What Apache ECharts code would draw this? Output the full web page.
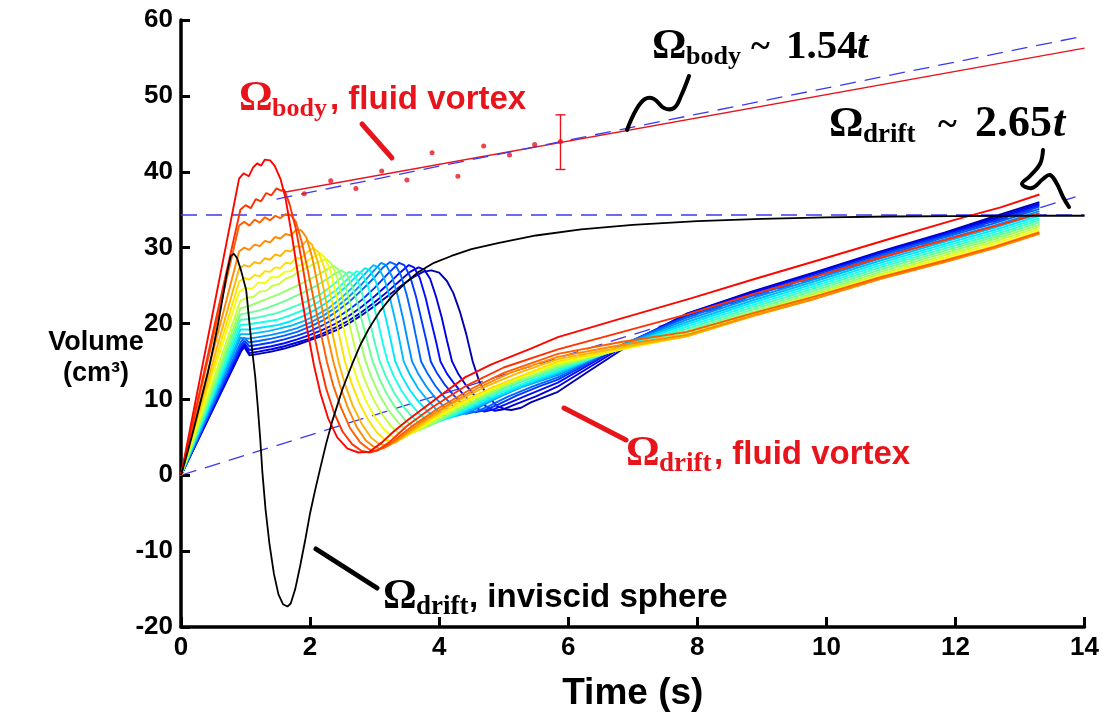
<!DOCTYPE html>
<html><head><meta charset="utf-8">
<script src="https://cdn.jsdelivr.net/npm/echarts@6/dist/echarts.min.js"></script>
<style>html,body{margin:0;padding:0;background:#fff}#c{width:1102px;height:717px}</style>
</head><body><div id="c"></div>
<script>
// ---- data: [time (s), volume (cm^3)] ----
const c00 = [[0,0],[0.9,39.1],[0.97,39.8],[1.05,39.4],[1.12,40.6],[1.18,41.1],[1.24,40.8],[1.3,41.6],[1.38,41.5],[1.45,40.8],[1.54,39.1],[1.62,36.5],[1.72,31.5],[1.83,25.5],[1.95,19.5],[2.06,14.5],[2.16,10.8],[2.28,7.5],[2.42,5.0],[2.58,3.5],[2.75,3.0],[2.92,3.1],[3.11,4.3],[3.3,5.8],[3.52,7.3],[3.99,10.3],[4.4,12.9],[4.81,14.6],[5.42,16.7],[5.84,18.2],[6.8,20.6],[7.9,23.3],[8.9,25.9],[9.9,28.4],[11.0,31.2],[12.0,33.7],[12.7,35.3],[13.3,37.0]];
const c01 = [[0,0],[0.92,35.0],[1.0,35.6],[1.08,35.2],[1.16,36.4],[1.24,36.1],[1.32,37.2],[1.4,36.9],[1.48,37.8],[1.55,37.5],[1.6,37.6],[1.68,35.8],[1.78,32.5],[1.88,27.8],[1.98,22.6],[2.07,18.2],[2.15,15.0],[2.25,11.4],[2.37,8.3],[2.5,5.8],[2.65,4.1],[2.8,3.2],[2.92,3.0],[3.05,3.3],[3.22,4.3],[3.5,6.5],[3.9,9.0],[4.4,11.7],[5.0,14.2],[5.84,16.6],[6.84,18.9],[7.84,21.2],[8.84,23.8],[9.84,26.2],[10.84,28.7],[11.84,31.0],[12.6,32.8],[13.3,34.5]];
const c02 = [[0,0],[0.9,32.9],[0.98,33.4],[1.06,32.9],[1.14,33.7],[1.22,33.3],[1.3,34.0],[1.38,33.6],[1.46,34.2],[1.54,33.9],[1.62,34.4],[1.7,34.3],[1.78,33.4],[1.87,30.8],[1.97,26.8],[2.07,22.6],[2.17,18.6],[2.26,15.0],[2.36,11.8],[2.48,8.9],[2.62,6.2],[2.78,4.3],[2.92,3.4],[3.0,3.2],[3.15,3.6],[3.35,4.9],[3.6,6.6],[4.0,8.9],[4.5,11.4],[5.0,13.5],[5.84,16.0],[6.84,17.6],[7.84,18.9],[8.84,21.3],[9.84,23.6],[10.84,26.1],[11.84,28.3],[12.6,30.1],[13.3,32.0]];
const c03 = [[0,0],[0.9,29.5],[0.98,30.0],[1.06,29.7],[1.14,30.4],[1.22,30.2],[1.3,30.9],[1.38,30.7],[1.46,31.4],[1.54,31.2],[1.62,31.8],[1.7,31.6],[1.78,32.3],[1.86,32.3],[1.94,31.4],[2.03,28.8],[2.12,25.0],[2.2,21.3],[2.28,18.0],[2.36,15.0],[2.46,11.9],[2.58,9.0],[2.72,6.4],[2.86,4.6],[2.98,3.8],[3.08,3.5],[3.22,3.9],[3.42,5.1],[3.7,6.9],[4.1,9.1],[4.6,11.5],[5.1,13.5],[5.84,15.6],[6.84,17.2],[7.84,18.5],[8.84,21.0],[9.84,23.3],[10.84,25.9],[11.84,28.1],[12.6,29.9],[13.3,31.8]];
const c04 = [[0,0],[0.9,27.2],[0.98,27.7],[1.06,27.5],[1.14,28.1],[1.22,27.9],[1.3,28.6],[1.38,28.4],[1.46,29.1],[1.54,28.9],[1.62,29.6],[1.7,29.5],[1.78,30.2],[1.86,30.1],[1.95,31.0],[2.03,30.4],[2.12,28.1],[2.21,24.6],[2.29,21.0],[2.37,17.8],[2.44,15.0],[2.54,12.0],[2.66,9.2],[2.8,6.8],[2.94,5.0],[3.06,4.2],[3.17,3.9],[3.32,4.3],[3.52,5.5],[3.8,7.2],[4.2,9.4],[4.7,11.6],[5.2,13.4],[5.84,15.3],[6.84,16.9],[7.84,18.3],[8.84,20.9],[9.84,23.3],[10.84,25.9],[11.84,28.2],[12.6,30.0],[13.3,31.9]];
const c05 = [[0,0],[0.9,25.5],[0.98,26.0],[1.06,25.8],[1.14,26.4],[1.22,26.2],[1.3,26.9],[1.38,26.8],[1.46,27.4],[1.54,27.3],[1.62,28.0],[1.7,27.9],[1.78,28.6],[1.86,28.6],[1.94,29.3],[2.05,30.0],[2.13,29.4],[2.22,27.4],[2.31,24.1],[2.39,20.8],[2.47,17.7],[2.54,15.0],[2.64,12.2],[2.76,9.6],[2.9,7.3],[3.04,5.6],[3.16,4.7],[3.27,4.4],[3.42,4.8],[3.62,5.9],[3.9,7.5],[4.3,9.5],[4.8,11.5],[5.3,13.2],[5.84,15.0],[6.84,16.7],[7.84,18.3],[8.84,21.0],[9.84,23.5],[10.84,26.1],[11.84,28.4],[12.6,30.2],[13.3,32.1]];
const c06 = [[0,0],[0.9,24.2],[1.0,24.7],[1.1,24.6],[1.2,25.4],[1.3,25.3],[1.4,26.1],[1.5,26.1],[1.6,26.8],[1.7,26.9],[1.8,27.6],[1.9,27.8],[2.0,28.5],[2.08,28.9],[2.15,29.3],[2.23,28.7],[2.32,26.8],[2.41,23.6],[2.49,20.4],[2.57,17.5],[2.64,15.0],[2.74,12.4],[2.86,9.9],[3.0,7.7],[3.14,6.1],[3.26,5.2],[3.37,4.9],[3.52,5.3],[3.72,6.3],[4.0,7.8],[4.4,9.7],[4.9,11.7],[5.4,13.4],[5.84,14.8],[6.84,16.6],[7.84,18.4],[8.84,21.1],[9.84,23.7],[10.84,26.3],[11.84,28.7],[12.6,30.5],[13.3,32.4]];
const c07 = [[0,0],[0.92,23.0],[1.02,23.4],[1.12,23.5],[1.22,24.2],[1.32,24.3],[1.42,25.0],[1.52,25.2],[1.62,25.9],[1.72,26.2],[1.82,26.8],[1.92,27.2],[2.02,27.7],[2.12,28.1],[2.25,28.5],[2.33,27.9],[2.42,26.1],[2.51,23.2],[2.6,20.2],[2.68,17.4],[2.75,15.0],[2.85,12.5],[2.97,10.2],[3.11,8.1],[3.25,6.5],[3.37,5.6],[3.48,5.3],[3.63,5.7],[3.83,6.7],[4.1,8.1],[4.5,9.9],[5.0,11.9],[5.4,13.3],[5.84,14.6],[6.84,16.7],[7.84,18.6],[8.84,21.3],[9.84,23.9],[10.84,26.5],[11.84,29.0],[12.6,30.8],[13.3,32.7]];
const c08 = [[0,0],[0.92,22.0],[1.05,22.3],[1.2,22.8],[1.35,23.3],[1.5,23.8],[1.65,24.4],[1.8,25.0],[1.95,25.6],[2.1,26.3],[2.22,26.9],[2.36,27.6],[2.44,27.1],[2.53,25.4],[2.62,22.7],[2.71,19.9],[2.79,17.3],[2.86,15.0],[2.96,12.7],[3.08,10.5],[3.22,8.5],[3.36,7.0],[3.48,6.0],[3.59,5.7],[3.74,6.1],[3.94,7.0],[4.2,8.3],[4.6,10.1],[5.1,12.1],[5.5,13.3],[5.84,14.4],[6.84,16.7],[7.84,18.8],[8.84,21.5],[9.84,24.1],[10.84,26.8],[11.84,29.3],[12.6,31.1],[13.3,33.0]];
const c09 = [[0,0],[0.92,21.2],[1.05,21.4],[1.2,21.7],[1.35,22.1],[1.5,22.6],[1.65,23.1],[1.8,23.7],[1.95,24.3],[2.1,25.0],[2.25,25.8],[2.37,26.5],[2.48,27.0],[2.56,26.6],[2.65,25.0],[2.74,22.5],[2.82,19.8],[2.9,17.2],[2.97,15.0],[3.07,12.8],[3.19,10.7],[3.33,8.8],[3.47,7.3],[3.59,6.4],[3.7,6.1],[3.85,6.5],[4.05,7.4],[4.3,8.6],[4.7,10.3],[5.2,12.3],[5.84,14.2],[6.84,16.7],[7.84,19.0],[8.84,21.8],[9.84,24.4],[10.84,27.1],[11.84,29.6],[12.6,31.4],[13.3,33.3]];
const c10 = [[0,0],[0.92,20.5],[1.05,20.6],[1.2,20.8],[1.35,21.1],[1.5,21.4],[1.65,21.9],[1.8,22.4],[2.0,23.1],[2.15,23.8],[2.3,24.7],[2.45,25.8],[2.6,26.8],[2.68,26.5],[2.77,25.0],[2.86,22.4],[2.94,19.7],[3.01,17.2],[3.08,15.0],[3.18,12.9],[3.3,10.9],[3.44,9.1],[3.58,7.7],[3.7,6.8],[3.8,6.5],[3.95,6.9],[4.15,7.8],[4.4,8.9],[4.8,10.6],[5.3,12.4],[5.84,14.0],[6.84,16.8],[7.84,19.3],[8.84,22.1],[9.84,24.7],[10.84,27.4],[11.84,29.9],[12.6,31.7],[13.3,33.6]];
const c11 = [[0,0],[0.92,19.8],[1.05,19.9],[1.2,20.1],[1.35,20.3],[1.5,20.5],[1.7,21.1],[1.9,21.8],[2.1,22.7],[2.25,23.5],[2.4,24.4],[2.56,25.7],[2.72,26.9],[2.8,26.6],[2.89,25.1],[2.98,22.6],[3.06,19.9],[3.13,17.3],[3.2,15.0],[3.3,13.0],[3.42,11.1],[3.56,9.4],[3.7,8.0],[3.82,7.2],[3.92,6.9],[4.07,7.3],[4.27,8.1],[4.52,9.2],[4.9,10.7],[5.4,12.4],[5.84,13.8],[6.84,16.9],[7.84,19.6],[8.84,22.4],[9.84,25.0],[10.84,27.7],[11.84,30.2],[12.6,32.0],[13.3,33.9]];
const c12 = [[0,0],[0.92,19.2],[1.05,19.2],[1.2,19.4],[1.35,19.6],[1.5,19.8],[1.7,20.3],[1.9,21.0],[2.1,21.9],[2.25,22.7],[2.4,23.7],[2.55,24.8],[2.7,26.1],[2.85,27.3],[2.93,27.0],[3.02,25.5],[3.11,22.9],[3.19,20.1],[3.26,17.4],[3.32,15.0],[3.42,13.1],[3.54,11.3],[3.68,9.7],[3.82,8.4],[3.94,7.6],[4.03,7.3],[4.18,7.6],[4.38,8.4],[4.65,9.5],[5.0,10.8],[5.4,12.2],[5.84,13.6],[6.84,17.0],[7.84,19.9],[8.84,22.7],[9.84,25.3],[10.84,28.0],[11.84,30.5],[12.6,32.3],[13.3,34.2]];
const c13 = [[0,0],[0.92,18.6],[1.05,18.6],[1.2,18.8],[1.35,19.0],[1.5,19.3],[1.7,19.7],[1.9,20.3],[2.1,21.1],[2.3,22.1],[2.5,23.5],[2.65,24.7],[2.8,26.1],[2.98,27.7],[3.06,27.4],[3.15,25.9],[3.24,23.3],[3.32,20.4],[3.39,17.6],[3.45,15.0],[3.55,13.2],[3.67,11.5],[3.81,10.0],[3.95,8.7],[4.06,7.9],[4.15,7.6],[4.3,7.9],[4.5,8.7],[4.8,9.9],[5.2,11.4],[5.84,13.4],[6.84,17.1],[7.84,20.2],[8.84,23.0],[9.84,25.6],[10.84,28.3],[11.84,30.8],[12.6,32.6],[13.3,34.5]];
const c14 = [[0,0],[0.92,18.1],[1.05,18.0],[1.2,18.2],[1.4,18.5],[1.6,18.9],[1.8,19.4],[2.0,20.1],[2.2,21.0],[2.4,22.1],[2.6,23.5],[2.8,25.2],[2.95,26.6],[3.1,28.0],[3.18,27.7],[3.27,26.2],[3.36,23.6],[3.44,20.7],[3.51,17.8],[3.58,15.0],[3.68,13.3],[3.8,11.7],[3.94,10.2],[4.08,9.0],[4.19,8.2],[4.28,7.9],[4.43,8.2],[4.63,9.0],[4.9,10.2],[5.3,11.7],[5.84,13.2],[6.84,17.2],[7.84,20.5],[8.84,23.3],[9.84,25.9],[10.84,28.6],[11.84,31.1],[12.6,32.9],[13.3,34.8]];
const c15 = [[0,0],[0.93,17.6],[0.98,18.1],[1.05,17.5],[1.2,17.7],[1.4,18.0],[1.6,18.4],[1.8,18.9],[2.0,19.6],[2.2,20.4],[2.4,21.5],[2.6,22.8],[2.8,24.4],[3.0,26.1],[3.12,27.3],[3.24,28.1],[3.32,27.8],[3.41,26.3],[3.5,23.7],[3.58,20.8],[3.65,17.9],[3.72,15.0],[3.82,13.4],[3.94,11.8],[4.08,10.3],[4.22,9.1],[4.33,8.4],[4.42,8.1],[4.57,8.4],[4.77,9.1],[5.05,10.3],[5.45,11.7],[5.84,12.9],[6.84,17.2],[7.84,20.8],[8.84,23.6],[9.84,26.2],[10.84,28.9],[11.84,31.4],[12.6,33.2],[13.3,35.1]];
const c16 = [[0,0],[0.93,17.2],[0.98,17.7],[1.06,17.0],[1.2,17.2],[1.4,17.5],[1.6,17.9],[1.8,18.4],[2.0,19.0],[2.2,19.8],[2.4,20.7],[2.6,21.8],[2.8,23.1],[3.0,24.7],[3.2,26.5],[3.38,28.0],[3.46,27.7],[3.55,26.2],[3.64,23.6],[3.72,20.7],[3.8,17.8],[3.87,15.0],[3.97,13.4],[4.09,11.9],[4.23,10.5],[4.37,9.3],[4.47,8.6],[4.56,8.3],[4.71,8.6],[4.91,9.3],[5.2,10.5],[5.55,11.7],[5.84,12.6],[6.84,17.2],[7.84,21.0],[8.84,23.8],[9.84,26.4],[10.84,29.1],[11.84,31.6],[12.6,33.5],[13.3,35.4]];
const c17 = [[0,0],[0.93,16.8],[0.98,17.4],[1.06,16.5],[1.2,16.7],[1.4,17.0],[1.6,17.4],[1.8,17.9],[2.0,18.5],[2.2,19.2],[2.4,20.0],[2.6,21.0],[2.8,22.2],[3.0,23.6],[3.2,25.1],[3.38,26.6],[3.53,27.7],[3.61,27.4],[3.7,26.0],[3.79,23.4],[3.87,20.5],[3.95,17.7],[4.02,15.0],[4.12,13.4],[4.24,12.0],[4.38,10.6],[4.51,9.4],[4.61,8.7],[4.7,8.4],[4.85,8.7],[5.05,9.4],[5.35,10.5],[5.84,12.2],[6.84,17.1],[7.84,21.2],[8.84,24.0],[9.84,26.6],[10.84,29.3],[11.84,31.8],[12.6,33.7],[13.3,35.6]];
const c18 = [[0,0],[0.93,16.5],[0.98,17.1],[1.06,16.1],[1.2,16.3],[1.4,16.6],[1.6,17.0],[1.8,17.5],[2.0,18.0],[2.2,18.7],[2.4,19.5],[2.6,20.4],[2.8,21.5],[3.0,22.8],[3.2,24.2],[3.4,25.7],[3.55,26.8],[3.68,27.4],[3.77,27.1],[3.86,25.9],[3.95,23.6],[4.04,20.8],[4.12,17.8],[4.2,15.0],[4.3,13.3],[4.42,11.8],[4.56,10.4],[4.69,9.3],[4.78,8.8],[4.86,8.5],[5.0,8.7],[5.2,9.4],[5.5,10.4],[5.84,11.7],[6.84,16.9],[7.84,21.3],[8.84,24.1],[9.84,26.7],[10.84,29.4],[11.84,31.9],[12.6,33.9],[13.3,35.8]];
const c19 = [[0,0],[0.93,16.3],[0.98,16.9],[1.06,15.8],[1.2,16.0],[1.4,16.3],[1.6,16.7],[1.8,17.2],[2.0,17.8],[2.2,18.4],[2.4,19.1],[2.6,20.0],[2.8,21.1],[3.0,22.3],[3.2,23.6],[3.4,24.9],[3.6,26.1],[3.75,26.8],[3.88,27.0],[4.0,26.7],[4.12,25.6],[4.22,24.0],[4.32,21.6],[4.42,18.6],[4.52,15.0],[4.62,12.4],[4.75,10.4],[4.9,9.1],[5.02,8.7],[5.12,8.6],[5.27,8.9],[5.42,9.6],[5.6,10.2],[5.84,11.0],[6.3,13.6],[6.84,16.6],[7.84,21.3],[8.84,24.2],[9.84,26.8],[10.84,29.5],[11.84,32.0],[12.6,34.1],[13.3,36.0]];

const inviscidSphere = [[0,0],[0.1,3.0],[0.2,6.2],[0.3,9.6],[0.41,13.3],[0.5,16.8],[0.58,20.2],[0.65,23.6],[0.71,26.6],[0.77,28.9],[0.82,29.2],[0.87,28.6],[0.93,27.0],[1.01,24.4],[1.1,16.7],[1.15,13.0],[1.19,9.0],[1.23,4.5],[1.26,0.5],[1.31,-4.5],[1.37,-9.0],[1.44,-13.0],[1.51,-15.7],[1.58,-17.0],[1.65,-17.3],[1.7,-16.9],[1.77,-15.0],[1.85,-11.8],[1.93,-8.3],[2.0,-5.0],[2.08,-1.9],[2.16,1.0],[2.25,4.2],[2.35,7.3],[2.5,11.3],[2.65,14.6],[2.78,17.2],[2.91,19.3],[3.08,21.6],[3.27,23.6],[3.47,25.3],[3.68,26.8],[3.92,28.0],[4.19,28.9],[4.5,29.8],[4.91,30.6],[5.5,31.6],[6.2,32.4],[7.0,33.0],[8.0,33.5],[9.0,33.8],[10.0,34.0],[11.0,34.1],[12.0,34.15],[13.0,34.2],[14.0,34.2]];

const bodyPoints = [[1.91,37.1],[2.32,38.8],[2.71,37.8],[3.11,40.1],[3.5,38.9],[3.89,42.5],[4.29,39.4],[4.69,43.4],[5.09,42.2],[5.48,43.6],[5.88,44.0]];
const bodyErrorBar = [[5.88,40.3,47.5]];
const bodyFitRed = [[1.6,37.3],[14,56.3]];
const bodyFitBlue = [[1.48,36.4],[14,57.9]];
const driftFit = [[0,0],[13.86,36.7]];
const driftAsymptote = [[0,34.3],[14,34.3]];

const vortexCurves = [c00,c01,c02,c03,c04,c05,c06,c07,c08,c09,c10,c11,c12,c13,c14,c15,c16,c17,c18,c19];
const jetColors = ['#ff0500','#ff3100','#ff5d00','#ff8900','#ffb500','#ffe100','#f1ff0e','#c5ff3a','#99ff66','#6dff92','#41ffbe','#15ffea','#00e8ff','#00bcff','#0090ff','#0064ff','#0038ff','#000bff','#0000df','#0000b3'];

const RED = '#e8141c';
const SANS = 'Liberation Sans, Arial, sans-serif';
const SERIF = 'Liberation Serif, Times New Roman, serif';

const series = [];
const dashBlue = {color:'#3a3af0', width:1.3, type:[16,9]};
series.push({type:'line', data:driftFit, showSymbol:false, lineStyle:dashBlue, z:1});
series.push({type:'line', data:driftAsymptote, showSymbol:false, lineStyle:dashBlue, z:1});
for (let k = vortexCurves.length - 1; k >= 0; k--) {
  series.push({type:'line', data:vortexCurves[k], showSymbol:false, lineStyle:{color:jetColors[k], width:1.9}, z:2});
}
series.push({type:'line', data:bodyFitRed, showSymbol:false, lineStyle:{color:RED, width:1.3}, z:3});
series.push({type:'line', data:bodyFitBlue, showSymbol:false, lineStyle:dashBlue, z:3});
series.push({type:'scatter', data:bodyPoints, symbolSize:5, itemStyle:{color:RED}, z:3});
series.push({type:'custom', data:bodyErrorBar, z:3,
  renderItem:function(params, api){
    const x = api.value(0);
    const lo = api.coord([x, api.value(1)]);
    const hi = api.coord([x, api.value(2)]);
    const st = {stroke:RED, lineWidth:1.4};
    return {type:'group', children:[
      {type:'line', shape:{x1:lo[0],y1:lo[1],x2:hi[0],y2:hi[1]}, style:st},
      {type:'line', shape:{x1:lo[0]-5,y1:lo[1],x2:lo[0]+5,y2:lo[1]}, style:st},
      {type:'line', shape:{x1:hi[0]-5,y1:hi[1],x2:hi[0]+5,y2:hi[1]}, style:st}
    ]};
  }});
series.push({type:'line', data:inviscidSphere, showSymbol:false, lineStyle:{color:'#000', width:1.8}, z:4});

function txt(x, y, text, font, fill) {
  return {type:'text', x:x, y:y, z:100, style:{text:text, font:font, fill:fill, align:'left', verticalAlign:'middle', textAlign:'left', textVerticalAlign:'middle'}};
}
function seg(pts, color, w, smooth) {
  return {type:'polyline', z:100, shape:{points:pts, smooth:smooth||0}, style:{stroke:color, lineWidth:w, fill:null, lineCap:'round'}};
}

const graphics = [
  // y-axis title
  {type:'text', x:96, y:343, z:100, style:{text:'Volume', font:'bold 27px '+SANS, fill:'#000', align:'center', verticalAlign:'middle', textAlign:'center', textVerticalAlign:'middle'}},
  {type:'text', x:96, y:374, z:100, style:{text:'(cm³)', font:'bold 27px '+SANS, fill:'#000', align:'center', verticalAlign:'middle', textAlign:'center', textVerticalAlign:'middle'}},
  // Omega_body, fluid vortex (red)
  txt(239, 99, 'Ω', 'bold 42px '+SERIF, RED),
  txt(272, 109, 'body', 'bold 26px '+SERIF, RED),
  txt(330, 100, ', fluid vortex', 'bold 33px '+SANS, RED),
  seg([[362,124],[392,158]], RED, 5),
  // Omega_body ~ 1.54t (black)
  txt(652, 47, 'Ω', 'bold 43px '+SERIF, '#000'),
  txt(686, 57, 'body', 'bold 26px '+SERIF, '#000'),
  txt(751, 48, '~', 'bold 36px '+SERIF, '#000'),
  txt(786, 47, '1.54', 'bold 41px '+SERIF, '#000'),
  txt(857, 47, 't', 'italic bold 41px '+SERIF, '#000'),
  seg([[689,76],[681,96],[674,108],[664,108],[654,99],[645,99],[636,110],[627,130]], '#000', 4, 0.4),
  // Omega_drift ~ 2.65t (black)
  txt(829, 125, 'Ω', 'bold 43px '+SERIF, '#000'),
  txt(863, 135, 'drift', 'bold 27px '+SERIF, '#000'),
  txt(938, 126, '~', 'bold 36px '+SERIF, '#000'),
  txt(975, 125, '2.65', 'bold 44px '+SERIF, '#000'),
  txt(1053, 125, 't', 'italic bold 44px '+SERIF, '#000'),
  seg([[1043,150],[1040,164],[1030,176],[1022,184],[1032,188],[1043,179],[1050,175],[1057,184],[1063,197],[1069,207]], '#000', 4, 0.4),
  // Omega_drift, fluid vortex (red)
  txt(626, 454, 'Ω', 'bold 42px '+SERIF, RED),
  txt(659, 464, 'drift', 'bold 27px '+SERIF, RED),
  txt(714, 455, ', fluid vortex', 'bold 33px '+SANS, RED),
  seg([[564,408],[626,440]], RED, 5),
  // Omega_drift, inviscid sphere (black)
  txt(383, 597, 'Ω', 'bold 42px '+SERIF, '#000'),
  txt(416, 607, 'drift', 'bold 27px '+SERIF, '#000'),
  txt(469, 598, ', inviscid sphere', 'bold 33px '+SANS, '#000'),
  seg([[316,549],[377,588]], '#000', 5)
];

const chart = echarts.init(document.getElementById('c'), null, {renderer:'canvas'});
chart.setOption({
  animation:false,
  backgroundColor:'#fff',
  grid:{left:181, right:13, top:20, bottom:74, containLabel:false},
  xAxis:{type:'value', min:0, max:14, interval:2,
    axisLine:{onZero:false, lineStyle:{color:'#000', width:3.5}},
    axisTick:{inside:true, length:10, lineStyle:{color:'#000', width:3}},
    axisLabel:{color:'#000', fontSize:26, fontWeight:'bold', fontFamily:SANS, margin:8},
    splitLine:{show:false},
    name:'Time (s)', nameLocation:'middle', nameGap:48,
    nameTextStyle:{color:'#000', fontSize:37, fontWeight:'bold', fontFamily:SANS}},
  yAxis:{type:'value', min:-20, max:60, interval:10,
    axisLine:{onZero:false, lineStyle:{color:'#000', width:3.5}},
    axisTick:{inside:true, length:9, lineStyle:{color:'#000', width:3}},
    axisLabel:{color:'#000', fontSize:26, fontWeight:'bold', fontFamily:SANS, margin:8},
    splitLine:{show:false}},
  series:series,
  graphic:graphics
});
</script>
</body></html>
